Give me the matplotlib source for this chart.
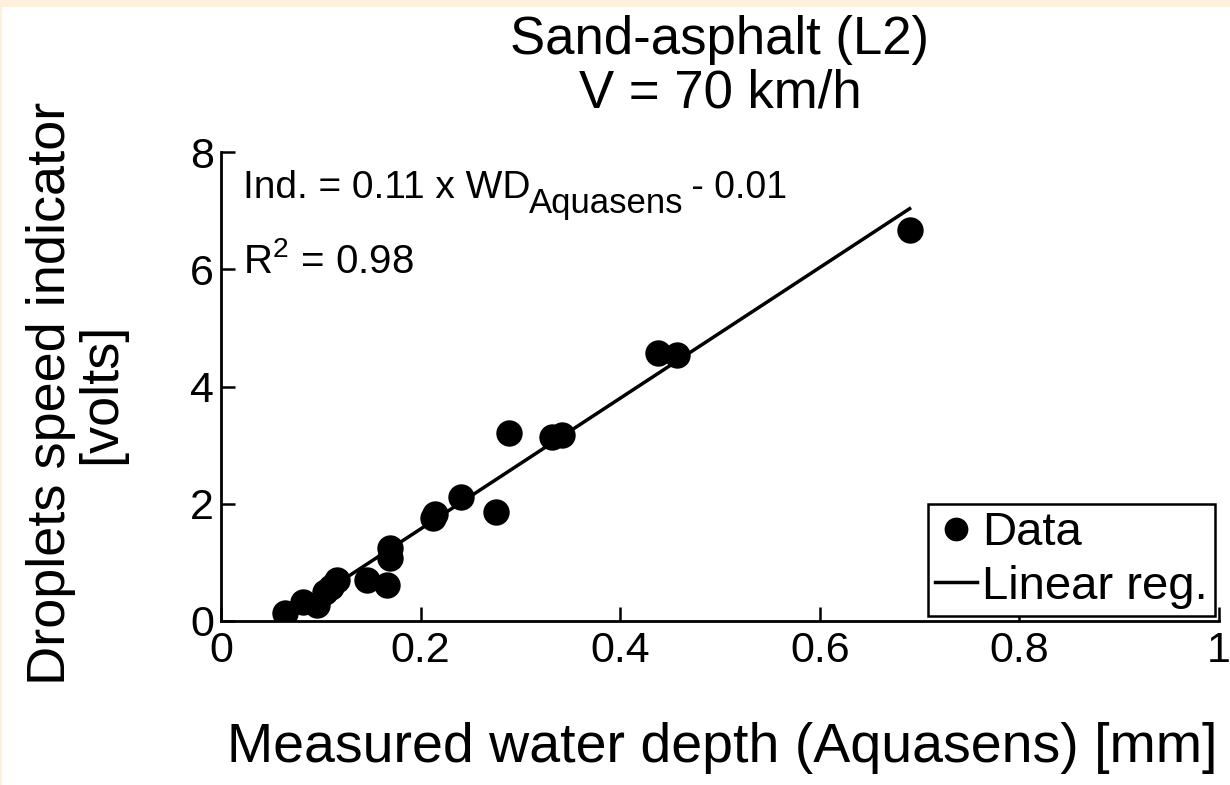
import matplotlib
matplotlib.use("Agg")
import matplotlib.pyplot as plt
from matplotlib.patches import Rectangle
import numpy as np

plt.rcParams['font.family'] = ['Liberation Sans', 'DejaVu Sans']
plt.rcParams['mathtext.fontset'] = 'custom'
plt.rcParams['mathtext.rm'] = 'Liberation Sans'
plt.rcParams['mathtext.it'] = 'Liberation Sans'

# Measured water depth (Aquasens) [mm] vs droplets speed indicator [volts]
water_depth = [0.064, 0.082, 0.096, 0.104, 0.110, 0.116, 0.146, 0.166,
               0.169, 0.169, 0.212, 0.214, 0.240, 0.276, 0.289, 0.332,
               0.342, 0.438, 0.457, 0.690]
indicator = [0.14, 0.32, 0.27, 0.50, 0.58, 0.70, 0.70, 0.61,
             1.07, 1.25, 1.75, 1.82, 2.12, 1.86, 3.21, 3.14,
             3.17, 4.57, 4.54, 6.67]

# Regression line (slope / intercept in plotted units)
reg_slope = 11.15
reg_intercept = -0.66

x_ticks = [0, 0.2, 0.4, 0.6, 0.8, 1]
x_tick_labels = ['0', '0.2', '0.4', '0.6', '0.8', '1']
y_ticks = [0, 2, 4, 6, 8]
y_tick_labels = ['0', '2', '4', '6', '8']

fig = plt.figure(figsize=(12.3, 7.85), dpi=100)
fig.patch.set_facecolor('white')

# cream frame along the top and left edges
fig.patches.append(Rectangle((0, 1 - 7 / 785), 1, 7 / 785, transform=fig.transFigure,
                             facecolor='#FDF0DC', edgecolor='none', zorder=0))
fig.patches.append(Rectangle((0, 0), 2 / 1230, 1, transform=fig.transFigure,
                             facecolor='#FDF0DC', edgecolor='none', zorder=0))

ax = fig.add_axes([221 / 1230, 164 / 785, 998 / 1230, 469 / 785])

ax.plot(water_depth, indicator, 'o', color='black', markersize=19,
        markeredgewidth=0, label='Data', zorder=3)

line_x = np.array([min(water_depth), max(water_depth)])
line_y = reg_slope * line_x + reg_intercept
ax.plot(line_x, line_y, '-', color='black', linewidth=2.5,
        label='Linear reg.', zorder=2)

ax.set_xlim(0, 1)
ax.set_ylim(0, 8)
ax.set_xticks(x_ticks)
ax.set_xticklabels(x_tick_labels)
ax.set_yticks(y_ticks)
ax.set_yticklabels(y_tick_labels)

for side in ['top', 'right']:
    ax.spines[side].set_visible(False)
for side in ['left', 'bottom']:
    ax.spines[side].set_linewidth(2)

ax.tick_params(axis='both', direction='in', length=10, width=1.8,
               labelsize=31, colors='black')
ax.tick_params(axis='x', pad=7)
ax.tick_params(axis='y', pad=5)

# regression equation, built in pieces so the subscript keeps a large size
eq_main = ax.text(0.022, 7.22, 'Ind. = 0.11 x WD', fontsize=28,
                  va='baseline', ha='left')
eq_sub = ax.annotate('Aquasens', xy=(1, 0), xycoords=eq_main,
                     xytext=(-1, -10), textcoords='offset points',
                     fontsize=25, va='bottom', ha='left')
ax.annotate(' - 0.01', xy=(1, 0), xycoords=eq_sub,
            xytext=(-2, 10), textcoords='offset points',
            fontsize=27, va='bottom', ha='left')
ax.text(0.022, 5.94, r'R$^{\mathregular{2}}$ = 0.98', fontsize=29,
        va='baseline', ha='left')

leg = ax.legend(loc='lower right', bbox_to_anchor=(0.996, 0.011), fontsize=34,
                frameon=True, fancybox=False, edgecolor='black', framealpha=1,
                borderpad=0.15, handlelength=0.9, handletextpad=0.1,
                labelspacing=0.2, borderaxespad=0, markerscale=0.9)
leg.get_frame().set_linewidth(1.8)

fig.text(720 / 1230, 1 - 67 / 785, 'Sand-asphalt (L2)\nV = 70 km/h',
         ha='center', va='center', fontsize=38, linespacing=1.08)
fig.text(722 / 1230, 1 - 748 / 785, 'Measured water depth (Aquasens) [mm]',
         ha='center', va='center', fontsize=40)
fig.text(76 / 1230, 1 - 393 / 785, 'Droplets speed indicator\n[volts]',
         ha='center', va='center', rotation=90, fontsize=39, linespacing=1.0)

fig.savefig('out.png', dpi=100, facecolor=fig.get_facecolor())
